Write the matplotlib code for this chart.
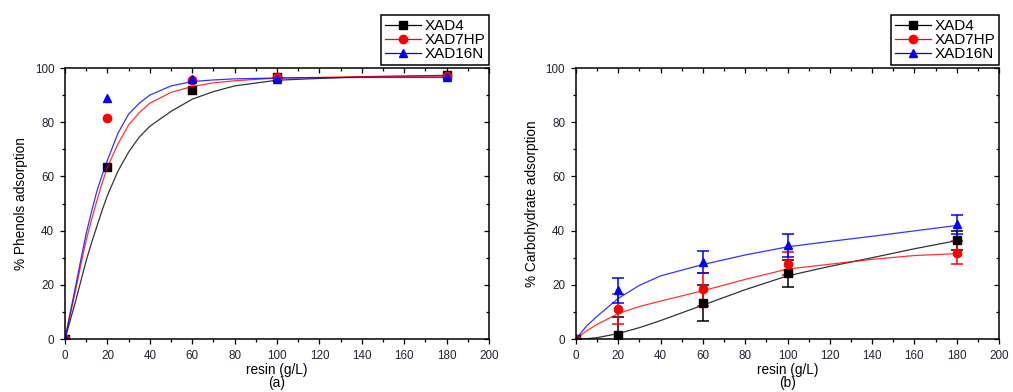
import numpy as np
import matplotlib as mpl
mpl.use('Agg')
import matplotlib.pyplot as pl
from matplotlib.ticker import MultipleLocator

pl.rcParams['font.family'] = ['Liberation Sans', 'DejaVu Sans']

names = ['XAD4', 'XAD7HP', 'XAD16N']
col = ['black', 'red', 'blue']
mk = ['s', 'o', '^']

# measured points
resin = [0, 20, 60, 100, 180]
phenols = [[0, 63.5, 92.0, 96.5, 97.5],
           [0, 81.5, 95.5, 96.5, 97.0],
           [0, 89.0, 96.0, 96.0, 96.5]]
carbo = [[0, 1.5, 13.3, 24.2, 36.5],
         [0, 11.1, 18.3, 27.8, 31.9],
         [0, 17.9, 28.4, 34.6, 42.3]]
carbo_err = [[0, 6.5, 6.7, 5.0, 3.5],
             [0, 5.6, 6.0, 4.3, 4.4],
             [0, 4.6, 4.1, 4.3, 3.6]]

# fitted curves
fitx_a = [0, 2.5, 5, 7.5, 10, 12.5, 15, 17.5, 20, 25, 30, 35, 40, 50, 60, 70, 80, 100, 140, 180]
fit_a = [[0, 7, 14, 21.5, 29, 35.5, 41.5, 47.5, 53, 62, 69, 74.5, 78.5, 84, 88.5, 91.3, 93.4, 95.5, 96.8, 97.3],
         [0, 9, 18, 27.5, 36.5, 44, 51, 57.5, 63.5, 72, 79, 83.5, 87, 91, 93.2, 94.5, 95.3, 96.3, 96.8, 97.0],
         [0, 10, 19.5, 29.5, 39, 47, 54.5, 60.5, 66, 76, 83, 87, 90, 93.4, 95, 95.6, 96, 96.3, 96.5, 96.5]]
fitx_b = [0, 5, 10, 20, 30, 40, 60, 80, 100, 120, 140, 160, 180]
fit_b = [[0, 0.1, 0.5, 2.0, 4.2, 6.8, 12.5, 18.2, 23.3, 26.8, 30.0, 33.3, 36.3],
         [0, 3.0, 5.4, 9.4, 12.0, 14.0, 17.8, 22.0, 25.8, 27.6, 29.4, 30.8, 31.5],
         [0, 4.8, 8.4, 15.0, 19.8, 23.3, 27.5, 31.0, 34.0, 36.0, 37.9, 39.9, 41.9]]

f = pl.figure(figsize=(10.13, 3.92), dpi=100)
ax1 = f.add_axes([0.0642, 0.1352, 0.4186, 0.6913])
ax2 = f.add_axes([0.5686, 0.1352, 0.4176, 0.6913])

def style(ax, ylab, lab):
	ax.set_xlim(0, 200)
	ax.set_ylim(0, 100)
	ax.xaxis.set_major_locator(MultipleLocator(20))
	ax.xaxis.set_minor_locator(MultipleLocator(10))
	ax.yaxis.set_major_locator(MultipleLocator(20))
	ax.yaxis.set_minor_locator(MultipleLocator(10))
	ax.tick_params(which='both', top=True, right=True, labelsize=8.4, labelcolor='#222233', width=0.9)
	ax.tick_params(which='both', direction='out')
	ax.tick_params(which='major', length=3.8, pad=4)
	ax.tick_params(which='minor', length=2.0)
	for s in ax.spines.values():
		s.set_linewidth(1.1)
	# mirrored ticks on top/right point the same way as bottom/left (inward)
	for t in ax.xaxis.get_major_ticks() + ax.xaxis.get_minor_ticks():
		t.tick2line.set_marker(3)
	for t in ax.yaxis.get_major_ticks() + ax.yaxis.get_minor_ticks():
		t.tick2line.set_marker(0)
	ax.set_xlabel('resin (g/L)', fontsize=9.8, labelpad=0.5)
	ax.set_ylabel(ylab, fontsize=9.8, labelpad=5)
	ax.text(0.5, -0.135, lab, transform=ax.transAxes, ha='center', va='top', fontsize=9.8)

handles = []
for i in range(3):
	ax1.plot(fitx_a, fit_a[i], '-', color=col[i], lw=0.9, alpha=0.8)
	ax1.plot(resin, phenols[i], mk[i], color=col[i], ms=6, ls='none')
	ax2.plot(fitx_b, fit_b[i], '-', color=col[i], lw=0.9, alpha=0.8)
	ax2.errorbar(resin, carbo[i], yerr=carbo_err[i], fmt=mk[i], color=col[i], ms=6,
		ecolor=col[i], elinewidth=1.1, capsize=4, capthick=1.1)
	handles.append(pl.Line2D([], [], color=col[i], lw=0.9, marker=mk[i], ms=6))

style(ax1, '% Phenols adsorption', '(a)')
style(ax2, '% Carbohydrate adsorption', '(b)')

for ax in [ax1, ax2]:
	leg = ax.legend(handles, names, loc='lower right', bbox_to_anchor=(1.0, 1.012),
		fontsize=11, numpoints=1, handlelength=2.4, handletextpad=0.2,
		labelspacing=0.0, borderpad=0.25, borderaxespad=0.0,
		fancybox=False, framealpha=1, edgecolor='black')
	leg.get_frame().set_linewidth(1.1)

f.savefig('out.png', dpi=100)
